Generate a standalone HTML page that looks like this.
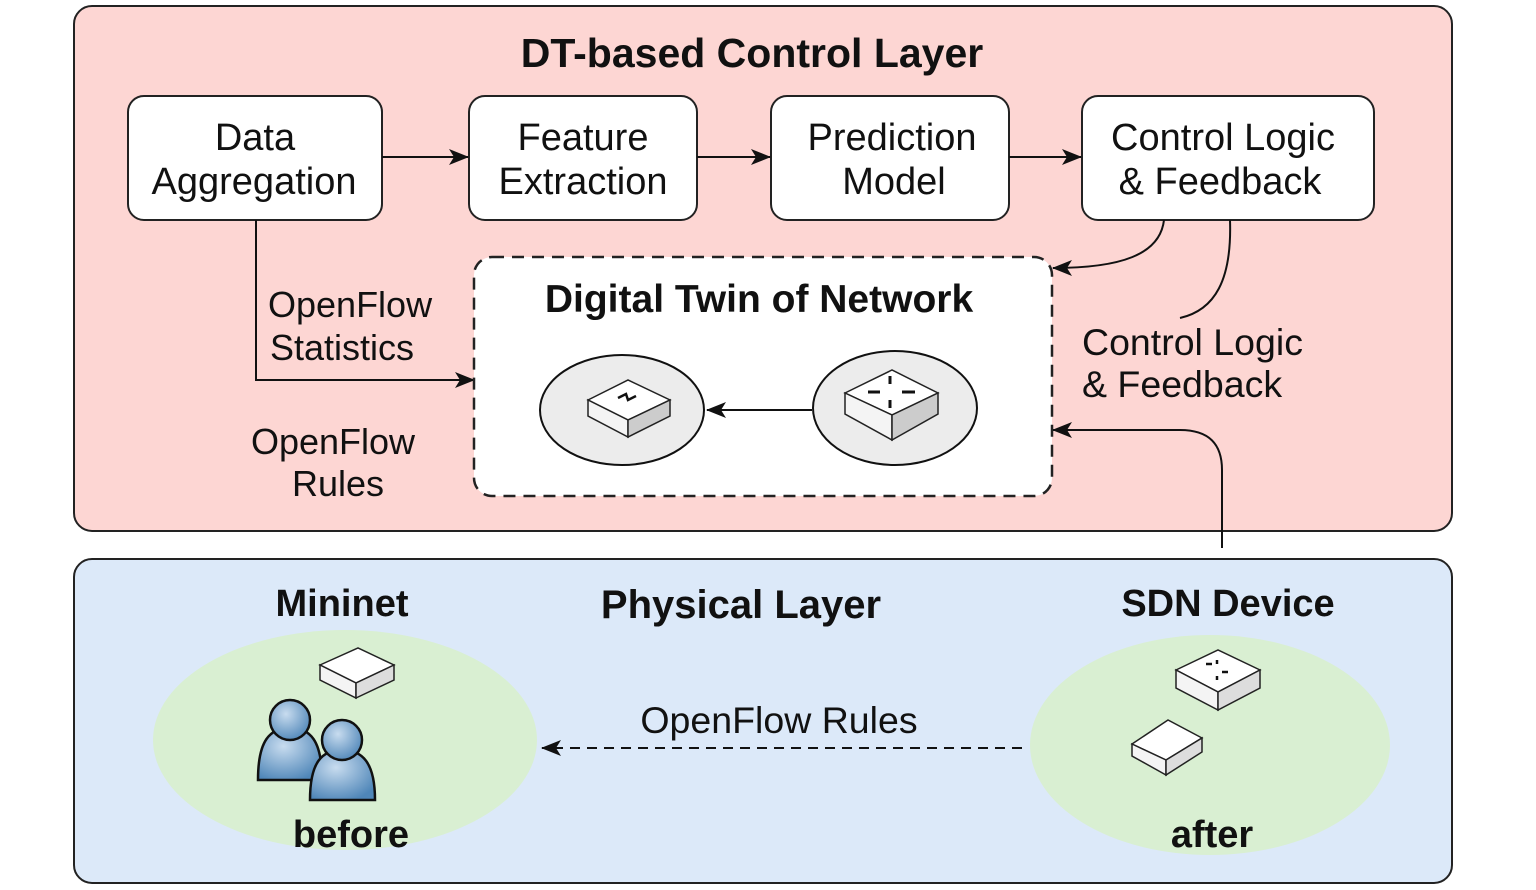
<!DOCTYPE html>
<html><head><style>body{margin:0;background:#fff}svg{display:block}text{font-family:"Liberation Sans",sans-serif}</style></head><body>
<svg width="1536" height="890" viewBox="0 0 1536 890" xmlns="http://www.w3.org/2000/svg">
<defs>
<marker id="a" markerWidth="20" markerHeight="20" refX="19" refY="8" orient="auto" markerUnits="userSpaceOnUse"><path d="M0,0 L20,8 L0,16 L5,8 Z" fill="#111"/></marker>
<radialGradient id="p" cx="40%" cy="35%" r="70%"><stop offset="0" stop-color="#c8dcef"/><stop offset="1" stop-color="#4f86b8"/></radialGradient>
</defs>
<rect x="74" y="6" width="1378" height="525" rx="18" fill="#fdd6d3" stroke="#222" stroke-width="2"/>
<rect x="74" y="559" width="1378" height="324" rx="18" fill="#dce9f9" stroke="#222" stroke-width="2"/>
<text x="752" y="67" font-size="41" font-weight="bold" text-anchor="middle" fill="#111">DT-based Control Layer</text>
<g fill="#fff" stroke="#222" stroke-width="2">
<rect x="128" y="96" width="254" height="124" rx="16"/>
<rect x="469" y="96" width="228" height="124" rx="16"/>
<rect x="771" y="96" width="238" height="124" rx="16"/>
<rect x="1082" y="96" width="292" height="124" rx="16"/>
</g>
<g font-size="38" text-anchor="middle" fill="#111">
<text x="255" y="150">Data</text><text x="254" y="194">Aggregation</text>
<text x="583" y="150">Feature</text><text x="583" y="194">Extraction</text>
<text x="892" y="150">Prediction</text><text x="894" y="194">Model</text>
<text x="1223" y="150">Control Logic</text><text x="1220" y="194">&amp; Feedback</text>
</g>
<g stroke="#111" stroke-width="2" fill="none" marker-end="url(#a)">
<line x1="382" y1="157" x2="468" y2="157"/>
<line x1="697" y1="157" x2="770" y2="157"/>
<line x1="1009" y1="157" x2="1081" y2="157"/>
<path d="M256,220 V380 H474"/>
<path d="M1164,220 C1160,255 1120,268 1053,268"/>
<path d="M1222,548 V470 C1222,445 1210,430 1180,430 H1053"/>
</g>
<path d="M1230,220 C1232,280 1215,310 1180,318" stroke="#111" stroke-width="2" fill="none"/>
<rect x="474" y="257" width="578" height="239" rx="18" fill="#fff" stroke="#222" stroke-width="2.5" stroke-dasharray="12,8"/>
<text x="759" y="312" font-size="39" font-weight="bold" text-anchor="middle" fill="#111">Digital Twin of Network</text>
<line x1="812" y1="410" x2="707" y2="410" stroke="#111" stroke-width="2" marker-end="url(#a)"/>
<ellipse cx="622" cy="410" rx="82" ry="55" fill="#ececec" stroke="#111" stroke-width="2"/>
<ellipse cx="895" cy="408" rx="82" ry="57" fill="#ececec" stroke="#111" stroke-width="2"/>
<g stroke="#222" stroke-width="1.5">
<path d="M588,400 L628,380 L670,400 L628,420 Z" fill="#fff"/><path d="M588,400 V416 L628,437 V420 Z" fill="#f4f4f4"/><path d="M628,420 V437 L670,416 V400 Z" fill="#ccc"/>
<path d="M845,393 L892,370 L938,393 L892,415 Z" fill="#fff"/><path d="M845,393 V414 L892,440 V415 Z" fill="#f4f4f4"/><path d="M892,415 V440 L938,414 V393 Z" fill="#ccc"/>
</g>
<path d="M618,398 L626,394 L628,400 L636,396" stroke="#111" stroke-width="2.5" fill="none"/>
<g stroke="#111" stroke-width="3"><line x1="868" y1="392" x2="880" y2="392"/><line x1="902" y1="392" x2="915" y2="392"/><line x1="890" y1="376" x2="890" y2="384"/><line x1="890" y1="400" x2="890" y2="408"/></g>
<g font-size="36" fill="#111">
<text x="268" y="317">OpenFlow</text><text x="270" y="360">Statistics</text>
<text x="333" y="454" text-anchor="middle">OpenFlow</text><text x="338" y="496" text-anchor="middle">Rules</text>
</g>
<g font-size="37.5" fill="#111">
<text x="1082" y="355">Control Logic</text><text x="1082" y="397">&amp; Feedback</text>
</g>
<ellipse cx="345" cy="740" rx="192" ry="110" fill="#d9efd2"/>
<ellipse cx="1210" cy="745" rx="180" ry="110" fill="#d9efd2"/>
<g font-size="38" font-weight="bold" text-anchor="middle" fill="#111">
<text x="342" y="616">Mininet</text><text x="741" y="618" font-size="40">Physical Layer</text><text x="1228" y="616">SDN Device</text>
<text x="351" y="847">before</text><text x="1212" y="847">after</text>
</g>
<text x="779" y="733" font-size="37.5" text-anchor="middle" fill="#111">OpenFlow Rules</text>
<line x1="1022" y1="748" x2="542" y2="748" stroke="#111" stroke-width="2" stroke-dasharray="10,7" marker-end="url(#a)"/>
<g stroke="#222" stroke-width="1.5">
<path d="M320,665 L358,648 L394,665 L356,683 Z" fill="#fff"/><path d="M320,665 V680 L356,698 V683 Z" fill="#f4f4f4"/><path d="M356,683 V698 L394,680 V665 Z" fill="#ddd"/>
<path d="M1176,670 L1218,650 L1260,670 L1218,692 Z" fill="#fff"/><path d="M1176,670 V688 L1218,710 V692 Z" fill="#f4f4f4"/><path d="M1218,692 V710 L1260,688 V670 Z" fill="#ddd"/>
<path d="M1132,744 L1168,720 L1202,738 L1166,760 Z" fill="#fff"/><path d="M1132,744 V756 L1166,775 V760 Z" fill="#f4f4f4"/><path d="M1166,760 V775 L1202,752 V738 Z" fill="#ddd"/>
</g>
<g stroke="#111" stroke-width="2.5"><line x1="1206" y1="664" x2="1212" y2="664"/><line x1="1222" y1="672" x2="1228" y2="672"/><line x1="1217" y1="660" x2="1217" y2="664"/><line x1="1217" y1="676" x2="1217" y2="680"/></g>
<g fill="url(#p)" stroke="#111" stroke-width="2.5">
<path d="M258,780 C258,740 270,728 290,728 C310,728 322,740 322,780 Z"/>
<circle cx="290" cy="720" r="20"/>
<path d="M310,800 C310,762 322,750 342,750 C362,750 375,762 375,800 Z"/>
<circle cx="342" cy="740" r="20"/>
</g>
</svg>
</body></html>
